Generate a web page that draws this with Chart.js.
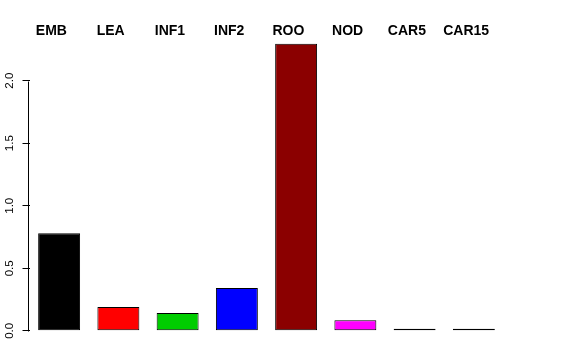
<!DOCTYPE html>
<html>
<head>
<meta charset="utf-8">
<script src="https://cdn.jsdelivr.net/npm/chart.js@4/dist/chart.umd.min.js"></script>
<style>
html,body{margin:0;padding:0;background:#fff;}
canvas{display:block;}
</style>
</head>
<body>
<canvas id="c" width="576" height="360"></canvas>
<script>
const categories = ["EMB", "LEA", "INF1", "INF2", "ROO", "NOD", "CAR5", "CAR15"];
const values = [0.78, 0.19, 0.143, 0.343, 2.295, 0.084, 0.003, 0.003];
const barColors = ["#000000", "#FF0000", "#00CD00", "#0000FF", "#8B0000", "#FF00FF", "#00FFFF", "#FFFF00"];
const yTicks = [0, 0.5, 1.0, 1.5, 2.0];
const yTickLabels = ["0.0", "0.5", "1.0", "1.5", "2.0"];

const drawExtras = {
  id: 'drawExtras',
  afterDraw(chart) {
    const ctx = chart.ctx;
    const xs = chart.scales.x, ys = chart.scales.y;
    ctx.save();
    // y axis line from first to last tick
    const axX = Math.round(chart.chartArea.left) - 1.5;
    ctx.strokeStyle = '#000';
    ctx.lineWidth = 1;
    ctx.beginPath();
    ctx.moveTo(axX, Math.round(ys.getPixelForValue(yTicks[0])) + 0.5);
    ctx.lineTo(axX, Math.round(ys.getPixelForValue(yTicks[yTicks.length - 1])) + 0.5);
    ctx.stroke();
    // rotated y tick labels
    ctx.fillStyle = '#000';
    ctx.font = '11.5px "Liberation Sans", Arial, sans-serif';
    ctx.textAlign = 'center';
    ctx.textBaseline = 'alphabetic';
    ys.ticks.forEach((t, i) => {
      const y = ys.getPixelForValue(t.value);
      ctx.save();
      ctx.translate(12.5, y);
      ctx.rotate(-Math.PI / 2);
      ctx.fillText(yTickLabels[i], 0, 0);
      ctx.restore();
    });
    // category labels on top
    ctx.font = 'bold 14px "Liberation Sans", Arial, sans-serif';
    ctx.textAlign = 'center';
    ctx.textBaseline = 'alphabetic';
    categories.forEach((c, i) => {
      ctx.fillText(c, xs.getPixelForValue(i) - 7.7, 35);
    });
    ctx.restore();
  }
};

new Chart(document.getElementById('c'), {
  type: 'bar',
  data: {
    labels: categories,
    datasets: [{
      data: values,
      backgroundColor: barColors,
      borderColor: '#000',
      borderWidth: 1,
      borderSkipped: false,
      minBarLength: 2,
      barPercentage: 0.708,
      categoryPercentage: 1.0
    }]
  },
  options: {
    responsive: false,
    animation: false,
    devicePixelRatio: 1,
    layout: { padding: { left: 0, right: 72.5, top: 32.3, bottom: 17.7 } },
    plugins: { legend: { display: false }, tooltip: { enabled: false }, title: { display: false } },
    scales: {
      x: {
        display: false,
        offset: true
      },
      y: {
        min: -0.0918,
        max: 2.3868,
        afterFit(scale) { scale.width = 29.5; },
        afterBuildTicks(scale) { scale.ticks = yTicks.map(v => ({ value: v })); },
        border: { display: false },
        grid: { drawOnChartArea: false, drawTicks: true, tickLength: 7, color: '#000', lineWidth: 1 },
        ticks: { display: false }
      }
    }
  },
  plugins: [drawExtras]
});
</script>
</body>
</html>
